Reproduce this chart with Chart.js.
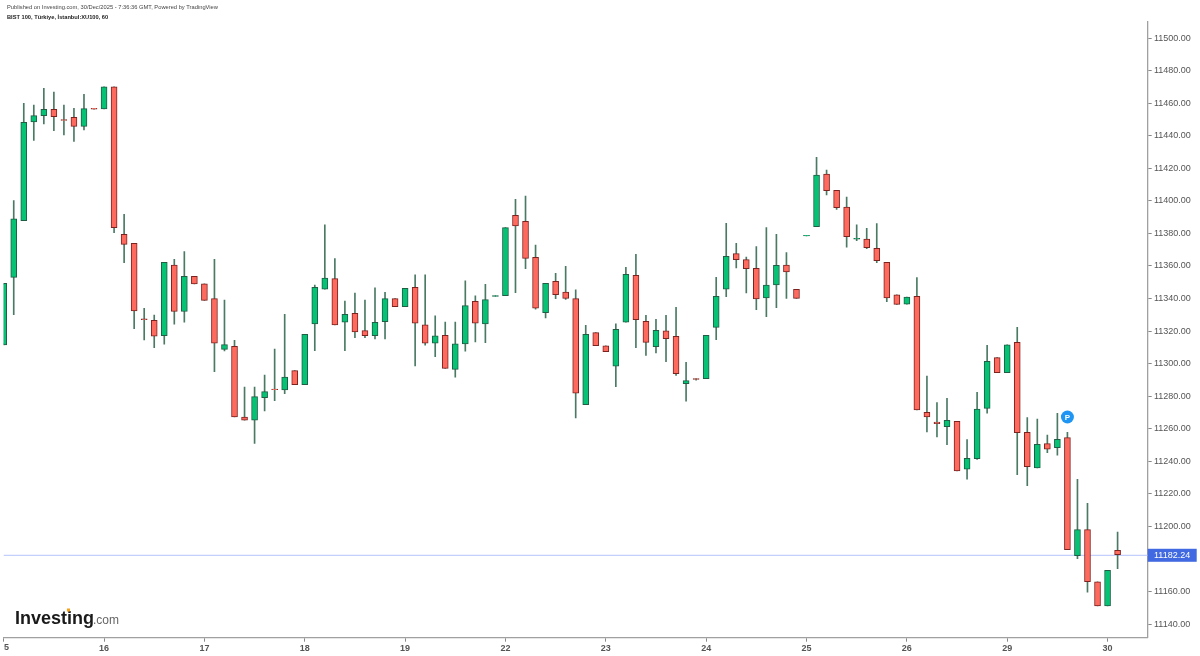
<!DOCTYPE html>
<html>
<head>
<meta charset="utf-8">
<title>BIST 100</title>
<style>
  html, body { margin: 0; padding: 0; background: #fff; }
  canvas { display: block; }
</style>
<script src="https://cdn.jsdelivr.net/npm/chart.js@4"></script>
</head>
<body>
<canvas id="myChart" width="1200" height="656"></canvas>
<script>
'use strict'

const opens = [
  11311.5, 11353.0, 11387.9, 11448.5, 11452.4, 11456.3, 11449.9, 11451.4, 11445.8, 11456.9,
  11456.5, 11470.0, 11379.5, 11373.9, 11327.5, 11326.6, 11317.2, 11360.6, 11332.0, 11353.7,
  11349.0, 11339.9, 11308.8, 11310.6, 11267.2, 11265.2, 11279.1, 11284.4, 11283.8, 11295.7,
  11287.1, 11324.4, 11345.7, 11352.2, 11325.4, 11330.9, 11320.3, 11317.2, 11325.8, 11339.9,
  11335.0, 11346.9, 11323.8, 11312.5, 11317.4, 11296.5, 11312.1, 11338.3, 11324.4, 11341.3,
  11341.8, 11391.1, 11387.4, 11365.3, 11331.3, 11350.6, 11344.0, 11339.9, 11274.8, 11319.0,
  11311.0, 11298.4, 11325.4, 11354.3, 11326.0, 11310.4, 11320.1, 11316.8, 11287.7, 11290.8,
  11290.8, 11322.3, 11345.7, 11367.6, 11363.9, 11358.6, 11340.3, 11348.3, 11360.6, 11345.7,
  11378.4, 11384.1, 11416.5, 11406.4, 11396.2, 11376.5, 11376.5, 11370.8, 11362.2, 11342.3,
  11336.6, 11341.3, 11270.0, 11264.1, 11261.2, 11264.5, 11235.2, 11241.6, 11272.5, 11303.7,
  11294.4, 11313.1, 11257.8, 11235.9, 11250.8, 11248.4, 11254.5, 11182.0, 11198.0, 11166.0,
  11151.1, 11185.3
];
const closes = [
  11349.4, 11388.9, 11448.3, 11452.4, 11456.3, 11451.8, 11449.4, 11445.8, 11456.7, 11456.4,
  11470.0, 11383.6, 11373.3, 11332.4, 11327.0, 11316.8, 11362.3, 11332.0, 11353.7, 11349.0,
  11338.9, 11312.5, 11311.7, 11267.2, 11265.2, 11279.7, 11282.8, 11284.0, 11291.8, 11287.1,
  11318.0, 11346.9, 11352.6, 11323.8, 11330.3, 11319.5, 11317.2, 11325.4, 11339.9, 11335.0,
  11346.3, 11324.8, 11312.5, 11317.0, 11297.1, 11312.1, 11335.6, 11324.8, 11339.3, 11341.8,
  11383.6, 11384.6, 11364.7, 11334.0, 11349.4, 11342.4, 11340.1, 11281.8, 11318.0, 11311.0,
  11307.4, 11321.1, 11354.9, 11327.0, 11313.1, 11320.5, 11315.4, 11293.9, 11289.6, 11290.3,
  11317.4, 11341.4, 11365.9, 11363.9, 11358.4, 11339.7, 11348.3, 11360.4, 11356.3, 11340.1,
  11378.9, 11415.8, 11406.2, 11395.8, 11378.0, 11377.0, 11371.2, 11363.2, 11340.3, 11336.4,
  11340.9, 11271.6, 11267.2, 11263.1, 11265.1, 11234.0, 11241.8, 11272.1, 11301.4, 11294.4,
  11311.6, 11257.6, 11236.7, 11250.4, 11247.5, 11253.5, 11185.7, 11198.0, 11166.0, 11151.1,
  11173.0, 11182.6
];
const highs = [
  11349.4, 11400.2, 11460.0, 11458.9, 11469.2, 11466.9, 11458.9, 11456.9, 11465.5, 11456.9,
  11470.0, 11470.0, 11391.7, 11373.9, 11334.0, 11329.9, 11362.3, 11364.1, 11368.8, 11353.7,
  11349.0, 11364.1, 11339.1, 11314.3, 11285.6, 11285.6, 11293.0, 11309.0, 11330.3, 11295.7,
  11318.0, 11348.3, 11385.2, 11364.5, 11338.5, 11343.4, 11339.1, 11346.5, 11343.8, 11339.9,
  11346.3, 11354.5, 11354.5, 11329.3, 11325.6, 11325.6, 11350.8, 11341.6, 11348.7, 11341.8,
  11383.6, 11401.0, 11403.0, 11372.9, 11349.4, 11355.5, 11359.8, 11345.3, 11323.6, 11319.0,
  11311.0, 11324.4, 11359.2, 11367.2, 11329.7, 11327.2, 11329.7, 11334.6, 11300.8, 11290.8,
  11317.4, 11353.0, 11386.2, 11373.9, 11365.5, 11371.9, 11383.6, 11379.5, 11368.2, 11345.7,
  11378.9, 11426.7, 11418.9, 11406.4, 11402.3, 11385.3, 11383.1, 11386.1, 11362.2, 11342.3,
  11340.9, 11352.8, 11292.3, 11276.0, 11278.6, 11264.5, 11253.4, 11282.4, 11311.2, 11303.7,
  11311.6, 11322.3, 11266.8, 11266.0, 11256.1, 11269.5, 11257.8, 11228.9, 11214.2, 11166.0,
  11173.0, 11196.5
];
const lows = [
  11311.5, 11330.1, 11387.9, 11437.2, 11447.3, 11443.2, 11440.5, 11436.6, 11443.6, 11456.4,
  11456.5, 11380.5, 11362.0, 11321.5, 11314.5, 11309.8, 11311.9, 11324.2, 11325.4, 11349.0,
  11338.9, 11295.1, 11307.8, 11267.2, 11265.2, 11251.0, 11270.9, 11277.2, 11281.5, 11287.1,
  11287.1, 11308.0, 11345.7, 11323.8, 11308.0, 11316.0, 11316.0, 11315.2, 11315.2, 11335.0,
  11335.0, 11298.6, 11311.3, 11304.3, 11297.1, 11291.6, 11307.6, 11313.3, 11312.9, 11341.3,
  11341.8, 11343.6, 11358.4, 11333.4, 11328.1, 11339.9, 11339.5, 11266.6, 11274.8, 11311.0,
  11307.4, 11285.9, 11325.4, 11309.8, 11305.1, 11306.6, 11301.2, 11292.8, 11276.9, 11289.8,
  11290.8, 11314.7, 11341.2, 11358.8, 11343.4, 11333.2, 11328.9, 11334.4, 11340.1, 11340.1,
  11378.4, 11384.1, 11403.6, 11394.7, 11371.6, 11375.5, 11370.6, 11362.0, 11338.0, 11336.4,
  11336.6, 11271.6, 11258.0, 11254.9, 11250.2, 11234.0, 11229.0, 11241.2, 11269.5, 11294.4,
  11294.4, 11231.8, 11225.0, 11235.9, 11245.3, 11243.7, 11185.7, 11180.2, 11159.5, 11151.1,
  11151.1, 11174.0
];

// the first day label is cut by the left edge in the picture, only "5" shows
const dayLabels = ['5', '16', '17', '18', '19', '22', '23', '24', '25', '26', '29', '30'];
const yTicks = [11140, 11160, 11180, 11200, 11220, 11240, 11260, 11280, 11300, 11320, 11340,
  11360, 11380, 11400, 11420, 11440, 11460, 11480, 11500];
const lastPrice = 11182.24;
const pIndex = 106;
const pLevel = 11267.2;

const slotCount = 115;  // 112 bars plus the blank space before the price axis
const barsPerDay = 10;

const labels = [];
for (let index = 0; index < slotCount; index++) {
  const isDay = index > 0 && index % barsPerDay === 0;
  labels.push(isDay ? dayLabels[index / barsPerDay] : '');
}

const isUp = opens.map((o, i) => closes[i] > o);
const bodies = opens.map((o, i) => [o, closes[i]]);
const wicks = lows.map((l, i) => [l, highs[i]]);

// header, logo, first day label and the price tag are drawn on top of the chart
const overlay = {
  id: 'overlay',
  afterDatasetsDraw(chart) {
    const ctx = chart.ctx;
    const y = chart.scales.y;
    const py = y.getPixelForValue(lastPrice);
    const pBadge = chart.getDatasetMeta(3).data[pIndex];

    ctx.save();
    ctx.textBaseline = 'middle';

    ctx.fillStyle = '#4169e1';
    ctx.fillRect(1147.7, py - 6.5, 49, 13);
    ctx.fillStyle = '#fff';
    ctx.font = '9px "Liberation Sans"';
    ctx.fillText(lastPrice.toFixed(2), 1154, py + 0.5);

    ctx.fillStyle = '#fff';
    ctx.font = 'bold 8px "Liberation Sans"';
    ctx.textAlign = 'center';
    ctx.fillText('P', pBadge.x, pBadge.y + 0.5);

    ctx.fillStyle = '#555';
    ctx.font = 'bold 9px "Liberation Sans"';
    ctx.fillText(dayLabels[0], 6.5, 647.5);
    ctx.textAlign = 'left';

    ctx.fillStyle = '#444';
    ctx.font = '5.75px "Liberation Sans"';
    ctx.fillText('Published on Investing.com, 30/Dec/2025 - 7:36:36 GMT, Powered by TradingView', 7, 7.5);
    ctx.fillStyle = '#222';
    ctx.font = 'bold 5.7px "Liberation Sans"';
    ctx.fillText('BIST 100, Türkiye, İstanbul:XU100, 60', 7, 17.5);

    ctx.textBaseline = 'alphabetic';
    ctx.fillStyle = '#1a1a1a';
    ctx.font = 'bold 18px "Liberation Sans"';
    ctx.fillText('Investing', 15, 623.5);
    ctx.fillStyle = '#666';
    ctx.font = '12px "Liberation Sans"';
    ctx.fillText('.com', 93, 623.5);
    ctx.fillStyle = '#f7a21b';
    ctx.fillRect(67, 608.5, 3, 3);
    ctx.restore();
  }
};

const ctx1 = document.getElementById('myChart');

new Chart(ctx1, {
  data: {
    labels: labels,
    datasets: [
      {
        type: 'bar',
        data: bodies,
        grouped: false,
        barThickness: 6,
        borderWidth: 1,
        borderSkipped: false,
        backgroundColor: isUp.map(up => up ? '#05c274' : '#ff6a5e'),
        borderColor: isUp.map(up => up ? '#1f5e45' : '#7c2320'),
        order: 1
      },
      {
        type: 'bar',
        data: wicks,
        grouped: false,
        barThickness: 1,
        borderWidth: 0,
        backgroundColor: '#4a7a64',
        order: 2
      },
      {
        type: 'line',
        data: labels.map(() => lastPrice),
        borderColor: '#c2d0fb',
        borderWidth: 1.2,
        pointRadius: 0,
        order: 3
      },
      {
        type: 'line',
        data: labels.map((l, i) => i === pIndex ? pLevel : null),
        showLine: false,
        pointRadius: 6.5,
        pointBorderWidth: 0,
        pointBackgroundColor: '#1f96f3',
        order: 0
      }
    ]
  },
  plugins: [overlay],
  options: {
    responsive: false,
    animation: false,
    layout: { autoPadding: false, padding: { left: 3.7, top: 22, right: 0, bottom: 0 } },
    plugins: {
      legend: { display: false },
      tooltip: { enabled: false }
    },
    scales: {
      x: {
        type: 'category',
        offset: false,
        grid: { offset: false, drawOnChartArea: false, tickLength: 4, tickColor: '#888' },
        border: { color: '#a0a0a0', width: 1.3 },
        ticks: {
          autoSkip: false,
          maxRotation: 0,
          padding: 1,
          color: '#555',
          font: { family: '"Liberation Sans"', size: 9, weight: 'bold' }
        },
        afterBuildTicks(scale) {
          scale.ticks = scale.ticks.filter(t => t.value % barsPerDay === 0 && t.value < dayLabels.length * barsPerDay);
        },
        afterFit(scale) {
          scale.height = 18.3;
        }
      },
      y: {
        position: 'right',
        min: 11131.6,
        max: 11509.9,
        grid: { drawOnChartArea: false, tickLength: 4, tickColor: '#888' },
        border: { color: '#a0a0a0', width: 1.3 },
        ticks: {
          padding: 2.3,
          color: '#555',
          font: { family: '"Liberation Sans"', size: 9 },
          callback: value => value.toFixed(2)
        },
        afterBuildTicks(scale) {
          scale.ticks = yTicks.map(value => ({ value: value }));
        },
        afterFit(scale) {
          scale.width = 52.3;
        }
      }
    }
  }
});
</script>
</body>
</html>
